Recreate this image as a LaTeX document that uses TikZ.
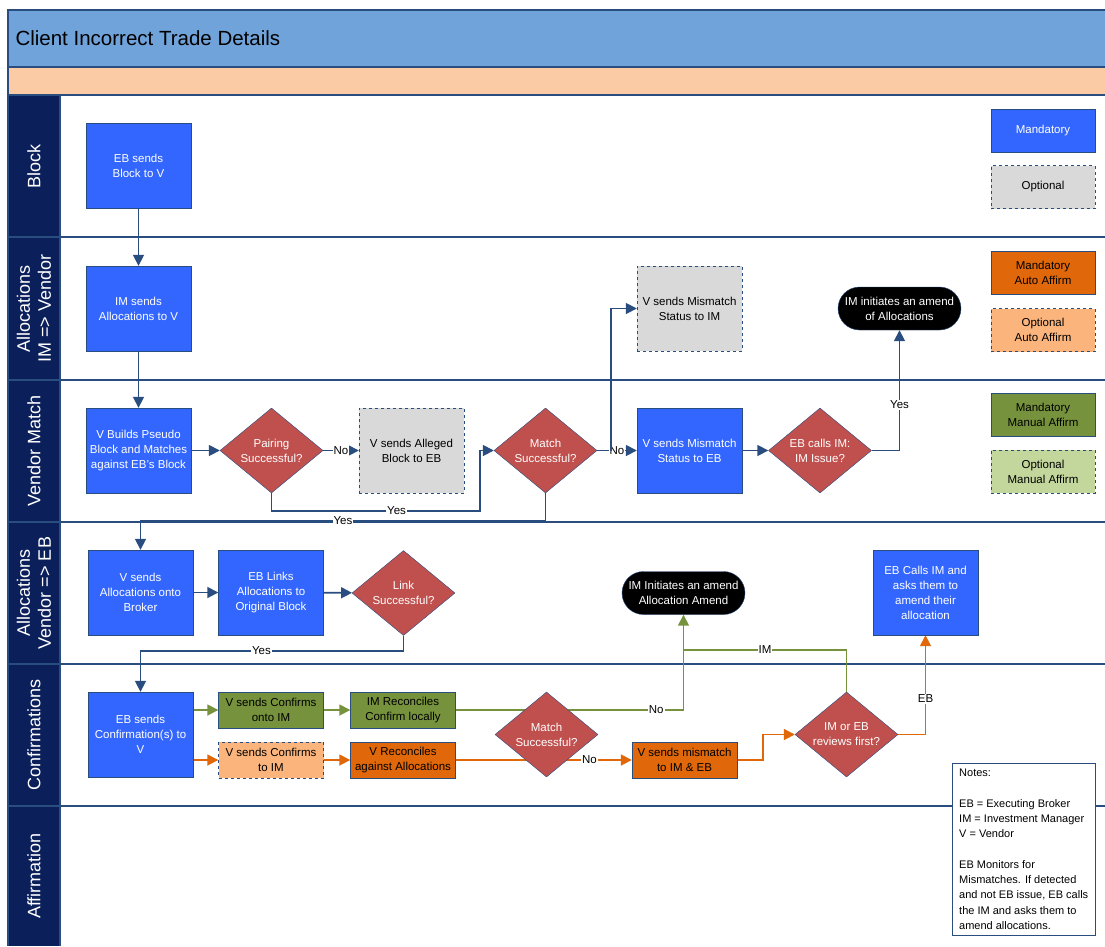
\documentclass[tikz,border=0pt]{standalone}
\usepackage{fontspec}
\setmainfont{Liberation Sans}
\usetikzlibrary{shapes,arrows.meta}
\definecolor{titleblue}{HTML}{71A3DB}
\definecolor{bandorange}{HTML}{FBCBA5}
\definecolor{lanenavy}{HTML}{0B1F5A}
\definecolor{lineblue}{HTML}{2A4D80}
\definecolor{boxblue}{HTML}{3366FF}
\definecolor{decred}{HTML}{C0504D}
\definecolor{optgray}{HTML}{D9D9D9}
\definecolor{autoorange}{HTML}{E0680A}
\definecolor{optorange}{HTML}{FAB47C}
\definecolor{manualgreen}{HTML}{76923C}
\definecolor{optgreen}{HTML}{C3D69B}
\tikzstyle{every node}=[font=\fontsize{11.5}{15}\selectfont]
\tikzstyle{block} = [rectangle, draw=lineblue, fill=boxblue, text=white,
    minimum width=105pt, minimum height=85pt, align=center, inner sep=1pt]
\tikzstyle{optblock} = [block, fill=optgray, text=black, dashed]
\tikzstyle{thinblock} = [block, minimum height=36pt, text=black]
\tikzstyle{decision} = [diamond, draw=lineblue, fill=decred, text=white,
    minimum width=103pt, minimum height=85pt, inner sep=0pt, aspect=1.2, align=center]
\tikzstyle{terminal} = [rounded rectangle, draw=lineblue, fill=black, text=white,
    minimum width=125pt, minimum height=43pt, inner sep=1pt, align=center]
\tikzstyle{legend} = [block, minimum width=104pt, minimum height=43pt]
\tikzstyle{lane} = [text=white, rotate=90, align=center, font=\fontsize{18}{21}\selectfont]
\tikzstyle{flow} = [draw=lineblue, line width=1.7pt, -{Triangle[length=11pt,width=11pt]}]
\tikzstyle{gflow} = [flow, draw=manualgreen]
\tikzstyle{oflow} = [flow, draw=autoorange]
\tikzstyle{lbl} = [fill=white, inner sep=1pt, text=black]
\pgfdeclarelayer{lanes}
\pgfdeclarelayer{links}
\pgfsetlayers{lanes,links,main}

\begin{document}
\begin{tikzpicture}[x=1pt, y=-1pt]
	\useasboundingbox (0,0) rectangle (1105,946);

	% Swimlanes
	\begin{pgfonlayer}{lanes}
	\fill[white] (0,0) rectangle (1105,946);
	\fill[titleblue] (8,10) rectangle (1105,67);
	\fill[bandorange] (8,67) rectangle (1105,95);
	\fill[lanenavy] (8,95) rectangle (60,946);
	\draw[lineblue, line width=1.2pt] (8,946) -- (8,10) -- (1105,10);
	\draw[lineblue, line width=1.2pt] (8,67) -- (1105,67);
	\draw[lineblue, line width=1.2pt] (8,95) -- (1105,95);
	\draw[lineblue, line width=1.2pt] (8,237) -- (1105,237);
	\draw[lineblue, line width=1.2pt] (8,380) -- (1105,380);
	\draw[lineblue, line width=1.2pt] (8,522) -- (1105,522);
	\draw[lineblue, line width=1.2pt] (8,664) -- (1105,664);
	\draw[lineblue, line width=1.2pt] (8,806) -- (1105,806);
	\draw[lineblue, line width=1.2pt] (60,95) -- (60,946);
	\end{pgfonlayer}

	\node[anchor=west, font=\fontsize{20.5}{24}\selectfont] (title) at (12,38) {Client Incorrect Trade Details};
	\node[lane] (lblock) at (34,166) {Block};
	\node[lane] (lallocim) at (34,308.5) {Allocations\\IM => Vendor};
	\node[lane] (lmatch) at (34,451) {Vendor Match};
	\node[lane] (lalloceb) at (34,593) {Allocations\\Vendor => EB};
	\node[lane] (lconf) at (34,735) {Confirmations};
	\node[lane] (laffirm) at (34,876) {Affirmation};

	% Place nodes
	\node[block] (ebblock) at (138.5,166) {EB sends\\Block to V};
	\node[block] (imalloc) at (138.5,308.5) {IM sends\\Allocations to V};
	\node[block] (vbuild) at (138.5,450.5) {V Builds Pseudo\\Block and Matches\\against EB's Block};
	\node[decision] (pairing) at (271.5,450.5) {Pairing\\Successful?};
	\node[optblock] (alleged) at (411.5,450.5) {V sends Alleged\\Block to EB};
	\node[decision] (match) at (545.5,450.5) {Match\\Successful?};
	\node[block] (mismeb) at (689.5,450.5) {V sends Mismatch\\Status to EB};
	\node[decision] (ebcalls) at (820,450.5) {EB calls IM:\\IM Issue?};
	\node[optblock] (mismim) at (689.5,308.5) {V sends Mismatch\\Status to IM};
	\node[terminal] (imamend) at (899.5,308.5) {IM initiates an amend\\of Allocations};

	\node[block] (valloc) at (140.5,592.5) {V sends\\Allocations onto\\Broker};
	\node[block] (eblinks) at (271,592.5) {EB Links\\Allocations to\\Original Block};
	\node[decision] (link) at (403.5,593) {Link\\Successful?};
	\node[terminal] (allocamend) at (683.5,593) {IM Initiates an amend\\Allocation Amend};
	\node[block] (ebcallsim) at (925.5,592.5) {EB Calls IM and\\asks them to\\amend their\\allocation};

	\node[block] (ebconf) at (140.5,734.5) {EB sends\\Confirmation(s) to\\V};
	\node[thinblock, fill=manualgreen] (vconfim) at (271,710) {V sends Confirms\\onto IM};
	\node[thinblock, fill=manualgreen] (imrec) at (403,710) {IM Reconciles\\Confirm locally};
	\node[thinblock, fill=optorange, dashed] (vconfto) at (271,760) {V sends Confirms\\to IM};
	\node[thinblock, fill=autoorange] (vrec) at (403,760) {V Reconciles\\against Allocations};
	\node[decision] (matchconf) at (546.5,734.5) {Match\\Successful?};
	\node[thinblock, fill=autoorange] (vmism) at (684.5,760) {V sends mismatch\\to IM \& EB};
	\node[decision] (imoreb) at (846.5,734.5) {IM or EB\\reviews first?};

	% Legend
	\node[legend] (lgmand) at (1043,131) {Mandatory};
	\node[legend, fill=optgray, text=black, dashed] (lgopt) at (1043,187) {Optional};
	\node[legend, fill=autoorange, text=black] (lgauto) at (1043,273) {Mandatory\\Auto Affirm};
	\node[legend, fill=optorange, text=black, dashed] (lgoptauto) at (1043,330) {Optional\\Auto Affirm};
	\node[legend, fill=manualgreen, text=black] (lgmanual) at (1043,414.5) {Mandatory\\Manual Affirm};
	\node[legend, fill=optgreen, text=black, dashed] (lgoptmanual) at (1043,471.5) {Optional\\Manual Affirm};

	\node[draw=lineblue, fill=white, anchor=north west, align=left, inner sep=2.5pt,
	    minimum width=143pt, minimum height=172pt, font=\fontsize{11}{15.3}\selectfont] (notes) at (952,763)
	    {Notes:\\[15.3pt]EB = Executing Broker\\IM = Investment Manager\\V = Vendor\\[15.3pt]EB Monitors for\\Mismatches. If detected\\and not EB issue, EB calls\\the IM and asks them to\\amend allocations.};

	% Connectors
	\coordinate (pairyes) at (480,511);
	\coordinate (matchyes) at (140.5,521);
	\coordinate (matchno) at (611,450.5);
	\coordinate (linkyes) at (140.5,651);
	\coordinate (imjoin) at (683.5,650);
	\coordinate (mismbend) at (763,760);

	\begin{pgfonlayer}{links}
	\draw[flow] (ebblock) -- (imalloc);
	\draw[flow] (imalloc) -- (vbuild);
	\draw[flow] (vbuild) -- (pairing);
	\draw[flow] (pairing) -- node[lbl] {No} (alleged);
	\draw[flow] (pairing.south) |- node[lbl, pos=0.8] {Yes} (pairyes) |- (match.west);
	\draw[flow] (match.south) |- node[lbl, pos=0.75] {Yes} (matchyes) -- (valloc);
	\draw[flow] (match) -- node[lbl] {No} (mismeb);
	\draw[flow] (matchno) |- (mismim.west);
	\draw[flow] (mismeb) -- (ebcalls);
	\draw[flow] (ebcalls.east) -| node[lbl, pos=0.69] {Yes} (imamend.south);

	\draw[flow] (valloc) -- (eblinks);
	\draw[flow] (eblinks) -- (link);
	\draw[flow] (link.south) |- node[lbl, pos=0.77] {Yes} (linkyes) -- (ebconf);

	\draw[gflow] (ebconf.east |- vconfim) -- (vconfim);
	\draw[gflow] (vconfim) -- (imrec);
	\draw[gflow] (imrec.east) -| node[lbl, pos=0.44] {No} (allocamend.south);
	\draw[manualgreen, line width=1.7pt] (imoreb.north) |- node[lbl, pos=0.75] {IM} (imjoin);

	\draw[oflow] (ebconf.east |- vconfto) -- (vconfto);
	\draw[oflow] (vconfto) -- (vrec);
	\draw[oflow] (vrec) -- node[lbl, pos=0.76] {No} (vmism);
	\draw[oflow] (vmism) -- (mismbend) |- (imoreb.west);
	\draw[oflow] (imoreb.east) -| node[lbl, pos=0.68] {EB} (ebcallsim.south);
	\end{pgfonlayer}
\end{tikzpicture}
\end{document}
